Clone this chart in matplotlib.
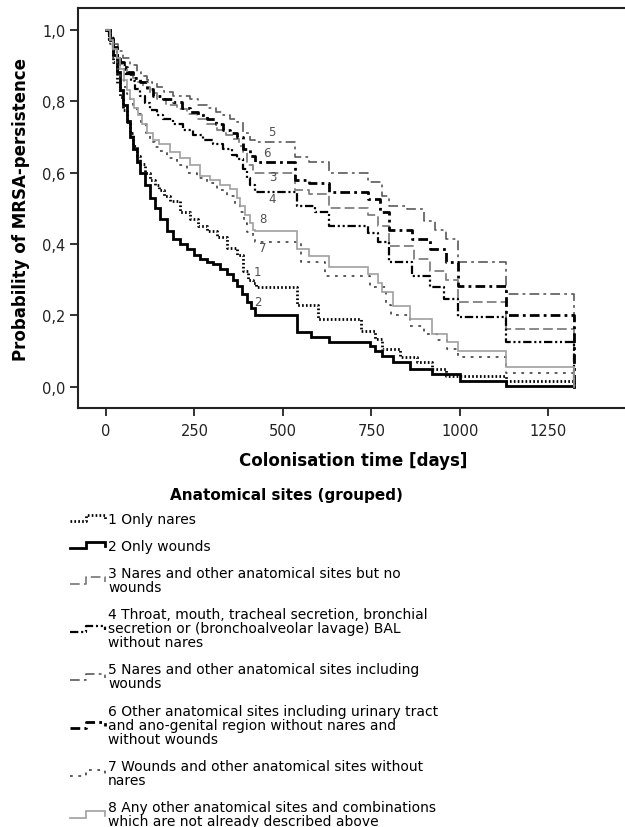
import matplotlib
matplotlib.use("Agg")
import matplotlib.pyplot as plt
from matplotlib.lines import Line2D
from matplotlib.legend_handler import HandlerLine2D
from matplotlib.ticker import FuncFormatter

plt.rcParams['font.family'] = ['DejaVu Sans']
plt.rcParams['lines.scale_dashes'] = False

# Kaplan-Meier curves: (day, survival probability), step-post
days_1 = [0, 11, 20, 31, 40, 48, 59, 68, 77, 87, 96, 110, 124, 138, 150, 165, 181, 210, 237, 260,
          285, 313, 342, 370, 387, 400, 415, 425, 540, 600, 720, 760, 780, 830, 880, 920, 960,
          1130, 1322]
surv_1 = [1.0, 0.97, 0.91, 0.85, 0.81, 0.775, 0.74, 0.71, 0.675, 0.646, 0.625, 0.60, 0.58, 0.565,
          0.55, 0.535, 0.52, 0.49, 0.47, 0.45, 0.435, 0.42, 0.39, 0.37, 0.325, 0.30, 0.29, 0.28,
          0.23, 0.19, 0.157, 0.134, 0.106, 0.084, 0.07, 0.05, 0.03, 0.017, 0.0]

days_2 = [0, 11, 20, 31, 40, 48, 59, 68, 76, 87, 96, 110, 124, 138, 153, 172, 189, 210, 229, 250,
          265, 285, 302, 322, 342, 358, 370, 385, 398, 410, 420, 540, 580, 630, 745, 760, 780,
          810, 860, 920, 1000, 1130, 1322]
surv_2 = [1.0, 0.97, 0.93, 0.88, 0.83, 0.79, 0.745, 0.70, 0.665, 0.63, 0.60, 0.565, 0.53, 0.50,
          0.47, 0.436, 0.414, 0.40, 0.386, 0.37, 0.358, 0.35, 0.344, 0.33, 0.316, 0.30, 0.283,
          0.26, 0.238, 0.22, 0.20, 0.153, 0.14, 0.125, 0.115, 0.10, 0.087, 0.07, 0.05, 0.036,
          0.017, 0.003, 0.0]

days_3 = [0, 10, 20, 30, 40, 48, 60, 75, 90, 105, 124, 143, 170, 200, 230, 257, 285, 313, 340,
          359, 375, 387, 398, 415, 535, 575, 630, 740, 770, 800, 870, 915, 960, 995, 1130, 1322]
surv_3 = [1.0, 0.975, 0.95, 0.93, 0.905, 0.89, 0.878, 0.865, 0.852, 0.84, 0.822, 0.806, 0.79,
          0.778, 0.765, 0.75, 0.735, 0.72, 0.705, 0.694, 0.675, 0.657, 0.62, 0.60, 0.55, 0.54,
          0.50, 0.48, 0.45, 0.395, 0.358, 0.325, 0.30, 0.237, 0.162, 0.0]

days_4 = [0, 10, 20, 30, 40, 55, 70, 83, 96, 110, 124, 143, 161, 190, 218, 246, 274, 302, 331,
          355, 370, 387, 398, 407, 420, 540, 590, 630, 740, 770, 800, 865, 915, 955, 995, 1130,
          1322]
surv_4 = [1.0, 0.97, 0.945, 0.92, 0.90, 0.877, 0.855, 0.835, 0.815, 0.795, 0.775, 0.76, 0.75,
          0.735, 0.72, 0.705, 0.69, 0.68, 0.665, 0.65, 0.638, 0.61, 0.585, 0.565, 0.545, 0.506,
          0.49, 0.45, 0.43, 0.405, 0.35, 0.31, 0.28, 0.246, 0.196, 0.125, 0.0]

days_5 = [0, 10, 20, 34, 48, 68, 87, 100, 115, 130, 143, 165, 189, 237, 260, 285, 310, 331, 350,
          370, 387, 407, 420, 535, 575, 630, 740, 780, 800, 850, 900, 930, 960, 995, 1130, 1322]
surv_5 = [1.0, 0.98, 0.96, 0.94, 0.92, 0.90, 0.88, 0.87, 0.86, 0.85, 0.84, 0.825, 0.814, 0.806,
          0.79, 0.78, 0.77, 0.76, 0.75, 0.74, 0.71, 0.69, 0.685, 0.643, 0.63, 0.60, 0.573, 0.535,
          0.506, 0.498, 0.465, 0.44, 0.414, 0.35, 0.26, 0.0]

days_6 = [0, 10, 20, 30, 40, 50, 59, 77, 96, 115, 133, 160, 189, 215, 237, 260, 285, 310, 331,
          350, 370, 387, 407, 420, 535, 575, 630, 740, 775, 800, 865, 915, 960, 995, 1130, 1322]
surv_6 = [1.0, 0.975, 0.95, 0.93, 0.91, 0.895, 0.88, 0.865, 0.853, 0.833, 0.815, 0.805, 0.797,
          0.78, 0.77, 0.76, 0.75, 0.735, 0.72, 0.71, 0.70, 0.666, 0.646, 0.63, 0.58, 0.57, 0.545,
          0.525, 0.49, 0.44, 0.414, 0.386, 0.35, 0.283, 0.20, 0.0]

days_7 = [0, 11, 20, 31, 40, 50, 60, 68, 77, 87, 100, 112, 124, 138, 150, 172, 200, 229, 257,
          285, 315, 342, 365, 379, 390, 398, 415, 420, 550, 620, 745, 790, 805, 860, 900, 935,
          965, 995, 1130, 1322]
surv_7 = [1.0, 0.96, 0.92, 0.89, 0.86, 0.84, 0.82, 0.805, 0.79, 0.765, 0.735, 0.71, 0.685, 0.67,
          0.66, 0.64, 0.62, 0.60, 0.585, 0.57, 0.55, 0.535, 0.51, 0.49, 0.46, 0.434, 0.42,
          0.405, 0.35, 0.31, 0.28, 0.23, 0.20, 0.17, 0.148, 0.13, 0.106, 0.084, 0.04, 0.0]

days_8 = [0, 11, 20, 31, 40, 50, 59, 68, 78, 90, 103, 116, 133, 150, 181, 209, 237, 265, 294,
          322, 350, 370, 379, 393, 407, 415, 420, 540, 575, 630, 740, 770, 780, 810, 860, 920,
          965, 995, 1130, 1322]
surv_8 = [1.0, 0.97, 0.945, 0.92, 0.89, 0.86, 0.83, 0.806, 0.78, 0.76, 0.735, 0.71, 0.69, 0.68,
          0.657, 0.64, 0.62, 0.59, 0.58, 0.565, 0.555, 0.53, 0.506, 0.48, 0.46, 0.44, 0.435,
          0.386, 0.367, 0.336, 0.316, 0.29, 0.266, 0.227, 0.19, 0.148, 0.126, 0.10, 0.055, 0.0]

curve_days = [days_1, days_2, days_3, days_4, days_5, days_6, days_7, days_8]
curve_surv = [surv_1, surv_2, surv_3, surv_4, surv_5, surv_6, surv_7, surv_8]
curve_ids = ['1', '2', '3', '4', '5', '6', '7', '8']
label_day = [429, 429, 472, 469, 469, 455, 444, 444]
label_prob = [0.324, 0.238, 0.590, 0.526, 0.716, 0.657, 0.391, 0.47]

legend_labels = [
    "1 Only nares",
    "2 Only wounds",
    "3 Nares and other anatomical sites but no\nwounds",
    "4 Throat, mouth, tracheal secretion, bronchial\nsecretion or (bronchoalveolar lavage) BAL\nwithout nares",
    "5 Nares and other anatomical sites including\nwounds",
    "6 Other anatomical sites including urinary tract\nand ano-genital region without nares and\nwithout wounds",
    "7 Wounds and other anatomical sites without\nnares",
    "8 Any other anatomical sites and combinations\nwhich are not already described above",
]

styles = [
    dict(color='black', lw=2.0, ls=(0, (1.2, 1.6))),
    dict(color='black', lw=2.0, ls='-'),
    dict(color='#808080', lw=1.3, ls=(0, (7, 3))),
    dict(color='black', lw=1.6, ls=(0, (6, 2, 1.5, 2, 1.5, 2))),
    dict(color='#5a5a5a', lw=1.2, ls=(0, (7, 3, 2, 3))),
    dict(color='black', lw=2.0, ls=(0, (7, 3, 2, 3))),
    dict(color='#404040', lw=1.2, ls=(0, (2, 4))),
    dict(color='#a0a0a0', lw=1.2, ls='-'),
]


class StepHandler(HandlerLine2D):
    # little step-shaped legend key, like the SPSS output
    def create_artists(self, legend, orig_handle, xdescent, ydescent, width, height, fontsize, trans):
        x0 = -xdescent
        y0 = -ydescent
        xm = x0 + 0.45 * width
        xs = [x0, xm, xm, x0 + width, x0 + width]
        ys = [y0 + 0.15 * height, y0 + 0.15 * height, y0 + 0.85 * height,
              y0 + 0.85 * height, y0 + 0.35 * height]
        line = Line2D(xs, ys)
        self.update_prop(line, orig_handle, legend)
        line.set_transform(trans)
        return [line]


fig = plt.figure(figsize=(6.25, 8.28), dpi=100)
ax = fig.add_axes([0.1248, 0.506, 0.88, 0.483])

handles = []
for d, s, st in zip(curve_days, curve_surv, styles):
    h, = ax.plot(d, s, drawstyle='steps-post', solid_joinstyle='miter', **st)
    handles.append(h)

for cid, dx, py in zip(curve_ids, label_day, label_prob):
    ax.text(dx, py, cid, fontsize=8.5, color='#505050', ha='center', va='center')

ax.set_xlim(-79, 1475)
ax.set_ylim(-0.059, 1.06)
ax.set_xticks([0, 250, 500, 750, 1000, 1250])
ax.set_yticks([0.0, 0.2, 0.4, 0.6, 0.8, 1.0])
ax.yaxis.set_major_formatter(FuncFormatter(lambda v, p: f"{v:.1f}".replace('.', ',')))
ax.tick_params(direction='out', length=6, width=1.3, labelsize=10.5, colors='#222222')
ax.tick_params(axis='x', pad=5)
ax.tick_params(axis='y', pad=3)
for side in ['left', 'bottom', 'top']:
    ax.spines[side].set_linewidth(1.5)
    ax.spines[side].set_color('#222222')
ax.spines['right'].set_visible(False)

ax.set_xlabel('Colonisation time [days]', fontsize=12, fontweight='bold', labelpad=9)
ax.set_ylabel('Probability of MRSA-persistence', fontsize=12, fontweight='bold', labelpad=9)

fig.text(0.459, 0.402, 'Anatomical sites (grouped)', fontsize=11, fontweight='bold',
         ha='center', va='center')

leg = fig.legend(handles, legend_labels, loc='upper left', bbox_to_anchor=(0.112, 0.381),
                 frameon=False, fontsize=10, handlelength=2.5, handleheight=0.6,
                 handletextpad=0.25, labelspacing=0.95, borderpad=0, borderaxespad=0,
                 handler_map={Line2D: StepHandler()})
for t in leg.get_texts():
    t.set_linespacing(1.0)

fig.savefig('out.png', dpi=100)
